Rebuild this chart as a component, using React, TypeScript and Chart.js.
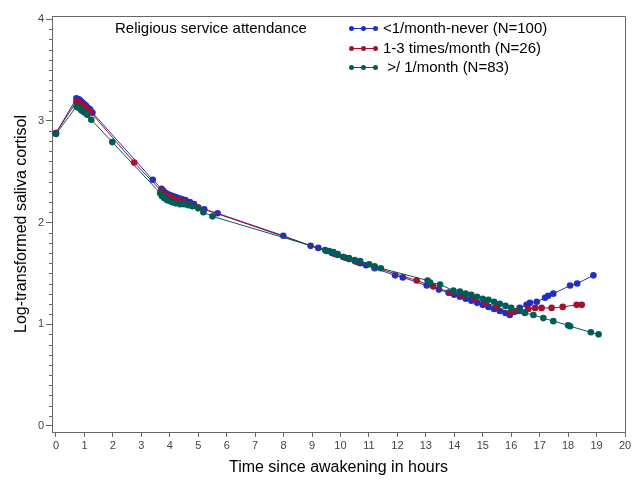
import React, { useEffect, useRef } from 'react';
import { Chart, registerables } from 'chart.js';
Chart.register(...registerables);

const blueX = [0, 0.72, 0.76, 0.80, 0.84, 0.88, 0.92, 0.96, 1.00, 1.05, 1.10, 1.15, 1.20, 1.28, 3.40, 3.71, 3.78, 3.85, 3.92, 4.00, 4.10, 4.20, 4.30, 4.42, 4.55, 4.71, 4.85, 5.21, 5.68, 7.99, 8.95, 9.22, 9.50, 9.70, 9.90, 10.10, 10.30, 10.50, 10.70, 10.90, 11.20, 11.92, 12.19, 13.03, 13.46, 13.80, 14.00, 14.20, 14.40, 14.60, 14.80, 15.00, 15.20, 15.40, 15.60, 15.80, 15.95, 16.10, 16.30, 16.54, 16.66, 16.90, 17.19, 17.30, 17.48, 18.07, 18.32, 18.89];
const blueY = [2.88, 3.22, 3.21, 3.21, 3.20, 3.19, 3.18, 3.17, 3.16, 3.15, 3.13, 3.12, 3.11, 3.08, 2.42, 2.33, 2.31, 2.29, 2.28, 2.27, 2.26, 2.25, 2.24, 2.23, 2.22, 2.20, 2.18, 2.13, 2.09, 1.87, 1.77, 1.75, 1.72, 1.70, 1.68, 1.66, 1.64, 1.62, 1.60, 1.58, 1.55, 1.48, 1.46, 1.38, 1.34, 1.31, 1.29, 1.27, 1.25, 1.23, 1.21, 1.19, 1.17, 1.15, 1.13, 1.11, 1.09, 1.12, 1.16, 1.19, 1.21, 1.22, 1.26, 1.28, 1.30, 1.38, 1.40, 1.48];

const redX = [0, 0.72, 0.78, 0.84, 0.90, 0.96, 1.02, 1.10, 1.20, 2.75, 3.70, 3.80, 3.90, 4.00, 4.15, 4.30, 4.50, 4.70, 5.00, 9.80, 10.20, 10.60, 11.20, 12.68, 13.26, 13.90, 14.30, 14.70, 15.10, 15.50, 15.96, 16.20, 16.60, 16.84, 17.07, 17.42, 17.81, 18.30, 18.48];
const redY = [2.88, 3.19, 3.18, 3.17, 3.16, 3.15, 3.13, 3.11, 3.09, 2.59, 2.31, 2.28, 2.26, 2.25, 2.23, 2.22, 2.20, 2.18, 2.15, 1.69, 1.65, 1.61, 1.56, 1.43, 1.37, 1.31, 1.28, 1.25, 1.21, 1.17, 1.11, 1.13, 1.15, 1.16, 1.16, 1.16, 1.17, 1.19, 1.19];

const tealX = [0, 0.72, 0.78, 0.84, 0.90, 0.96, 1.02, 1.10, 1.24, 1.98, 3.66, 3.72, 3.80, 3.90, 4.00, 4.10, 4.20, 4.36, 4.50, 4.65, 4.80, 5.00, 5.18, 5.50, 9.46, 9.60, 9.75, 9.90, 10.10, 10.30, 10.50, 10.69, 11.01, 11.20, 11.42, 13.06, 13.15, 13.50, 13.97, 14.20, 14.40, 14.60, 14.80, 15.00, 15.20, 15.40, 15.60, 15.80, 16.00, 16.30, 16.48, 16.78, 17.13, 17.48, 18.00, 18.07, 18.80, 19.07];
const tealY = [2.87, 3.14, 3.13, 3.12, 3.10, 3.09, 3.08, 3.06, 3.01, 2.79, 2.29, 2.26, 2.24, 2.22, 2.21, 2.20, 2.19, 2.18, 2.18, 2.17, 2.16, 2.14, 2.10, 2.06, 1.73, 1.72, 1.71, 1.69, 1.66, 1.65, 1.63, 1.62, 1.59, 1.57, 1.55, 1.43, 1.41, 1.39, 1.33, 1.32, 1.30, 1.29, 1.27, 1.25, 1.24, 1.22, 1.20, 1.18, 1.16, 1.13, 1.11, 1.09, 1.06, 1.03, 0.99, 0.98, 0.92, 0.90];

const xTicks = [0, 1, 2, 3, 4, 5, 6, 7, 8, 9, 10, 11, 12, 13, 14, 15, 16, 17, 18, 19, 20];
const yTicks = [0, 1, 2, 3, 4];
const legendTitle = 'Religious service attendance';
const seriesLabels = ['<1/month-never (N=100)', '1-3 times/month (N=26)', ' >/ 1/month (N=83)'];
const seriesColors = ['#1f2fc6', '#a6102c', '#005c58'];
const xTitle = 'Time since awakening in hours';
const yTitle = 'Log-transformed saliva cortisol';

const FONT = 'Arial, "Liberation Sans", sans-serif';
const AXIS = '#666666';

function pts(xs: number[], ys: number[]) {
  return xs.map((x, i) => ({ x, y: ys[i] }));
}

const framePlugin = {
  id: 'frame',
  afterDraw(chart: any) {
    const { ctx, chartArea } = chart;
    const ys = chart.scales.y;
    ctx.save();
    ctx.strokeStyle = AXIS;
    ctx.lineWidth = 1;
    ctx.beginPath();
    ctx.moveTo(Math.round(chartArea.left) + 0.5, Math.round(chartArea.top) + 0.5);
    ctx.lineTo(Math.round(chartArea.right) + 0.5, Math.round(chartArea.top) + 0.5);
    ctx.lineTo(Math.round(chartArea.right) + 0.5, Math.round(chartArea.bottom) + 0.5);
    ctx.stroke();
    // minor y ticks
    ctx.beginPath();
    for (let i = 1; i < 40; i++) {
      if (i % 10 === 0) continue;
      const py = Math.round(ys.getPixelForValue(i / 10)) + 0.5;
      ctx.moveTo(Math.round(chartArea.left) - 3, py);
      ctx.lineTo(Math.round(chartArea.left), py);
    }
    ctx.stroke();
    // legend
    ctx.fillStyle = '#000';
    ctx.font = `15px ${FONT}`;
    ctx.textBaseline = 'middle';
    ctx.textAlign = 'left';
    ctx.fillText(legendTitle, 115, 29);
    const rows = [28, 48, 67];
    seriesLabels.forEach((lab, i) => {
      const y = rows[i];
      ctx.strokeStyle = seriesColors[i];
      ctx.lineWidth = 1;
      ctx.beginPath();
      ctx.moveTo(350, y + 0.5);
      ctx.lineTo(377, y + 0.5);
      ctx.stroke();
      ctx.fillStyle = seriesColors[i];
      [351.5, 363.5, 375.5].forEach((cx) => {
        ctx.beginPath();
        ctx.arc(cx, y + 0.5, 2.5, 0, Math.PI * 2);
        ctx.fill();
      });
      ctx.fillStyle = '#000';
      ctx.fillText(lab, 383, y + 1);
    });
    ctx.restore();
  },
};

export default function App() {
  const ref = useRef<HTMLCanvasElement | null>(null);
  useEffect(() => {
    if (!ref.current) return;
    const mk = (label: string, xs: number[], ys: number[], color: string, order: number) => ({
      label,
      data: pts(xs, ys),
      showLine: true,
      borderColor: color,
      backgroundColor: color,
      borderWidth: 1,
      pointRadius: 3.3,
      pointBorderWidth: 0,
      pointHoverRadius: 3.3,
      order,
    });
    const chart = new Chart(ref.current, {
      type: 'scatter',
      data: {
        datasets: [
          mk(seriesLabels[0], blueX, blueY, seriesColors[0], 2),
          mk(seriesLabels[1], redX, redY, seriesColors[1], 1),
          mk(seriesLabels[2], tealX, tealY, seriesColors[2], 0),
        ],
      },
      options: {
        responsive: false,
        animation: false,
        events: [],
        layout: { padding: { top: 16, right: 12, left: 0, bottom: 0 } },
        plugins: { legend: { display: false }, tooltip: { enabled: false } },
        scales: {
          x: {
            type: 'linear',
            min: -0.14,
            max: 20,
            afterBuildTicks: (s: any) => { s.ticks = xTicks.map((v) => ({ value: v })); },
            afterFit: (s: any) => { s.height = 49; },
            grid: { drawOnChartArea: false, tickLength: 5, color: AXIS },
            border: { display: true, color: AXIS },
            ticks: { font: { size: 11, family: FONT }, color: '#444', padding: 2, maxRotation: 0, autoSkip: false, callback: (v: any) => String(v) },
            title: { display: true, text: xTitle, font: { size: 16, family: FONT }, color: '#000', padding: { top: 0, bottom: 4 } },
          },
          y: {
            type: 'linear',
            min: -0.06,
            max: 4.03,
            afterBuildTicks: (s: any) => { s.ticks = yTicks.map((v) => ({ value: v })); },
            afterFit: (s: any) => { s.width = 52; },
            grid: { drawOnChartArea: false, tickLength: 6, color: AXIS },
            border: { display: true, color: AXIS },
            ticks: { font: { size: 11, family: FONT }, color: '#444', padding: 2, callback: (v: any) => String(v) },
            title: { display: true, text: yTitle, font: { size: 16, family: FONT }, color: '#000', padding: { top: 12, bottom: 0 } },
          },
        },
      },
      plugins: [framePlugin],
    } as any);
    return () => chart.destroy();
  }, []);
  return (
    <div style={{ position: 'fixed', left: 0, top: 0, width: 637, height: 481, background: '#fff' }}>
      <canvas ref={ref} width={637} height={481} />
    </div>
  );
}
